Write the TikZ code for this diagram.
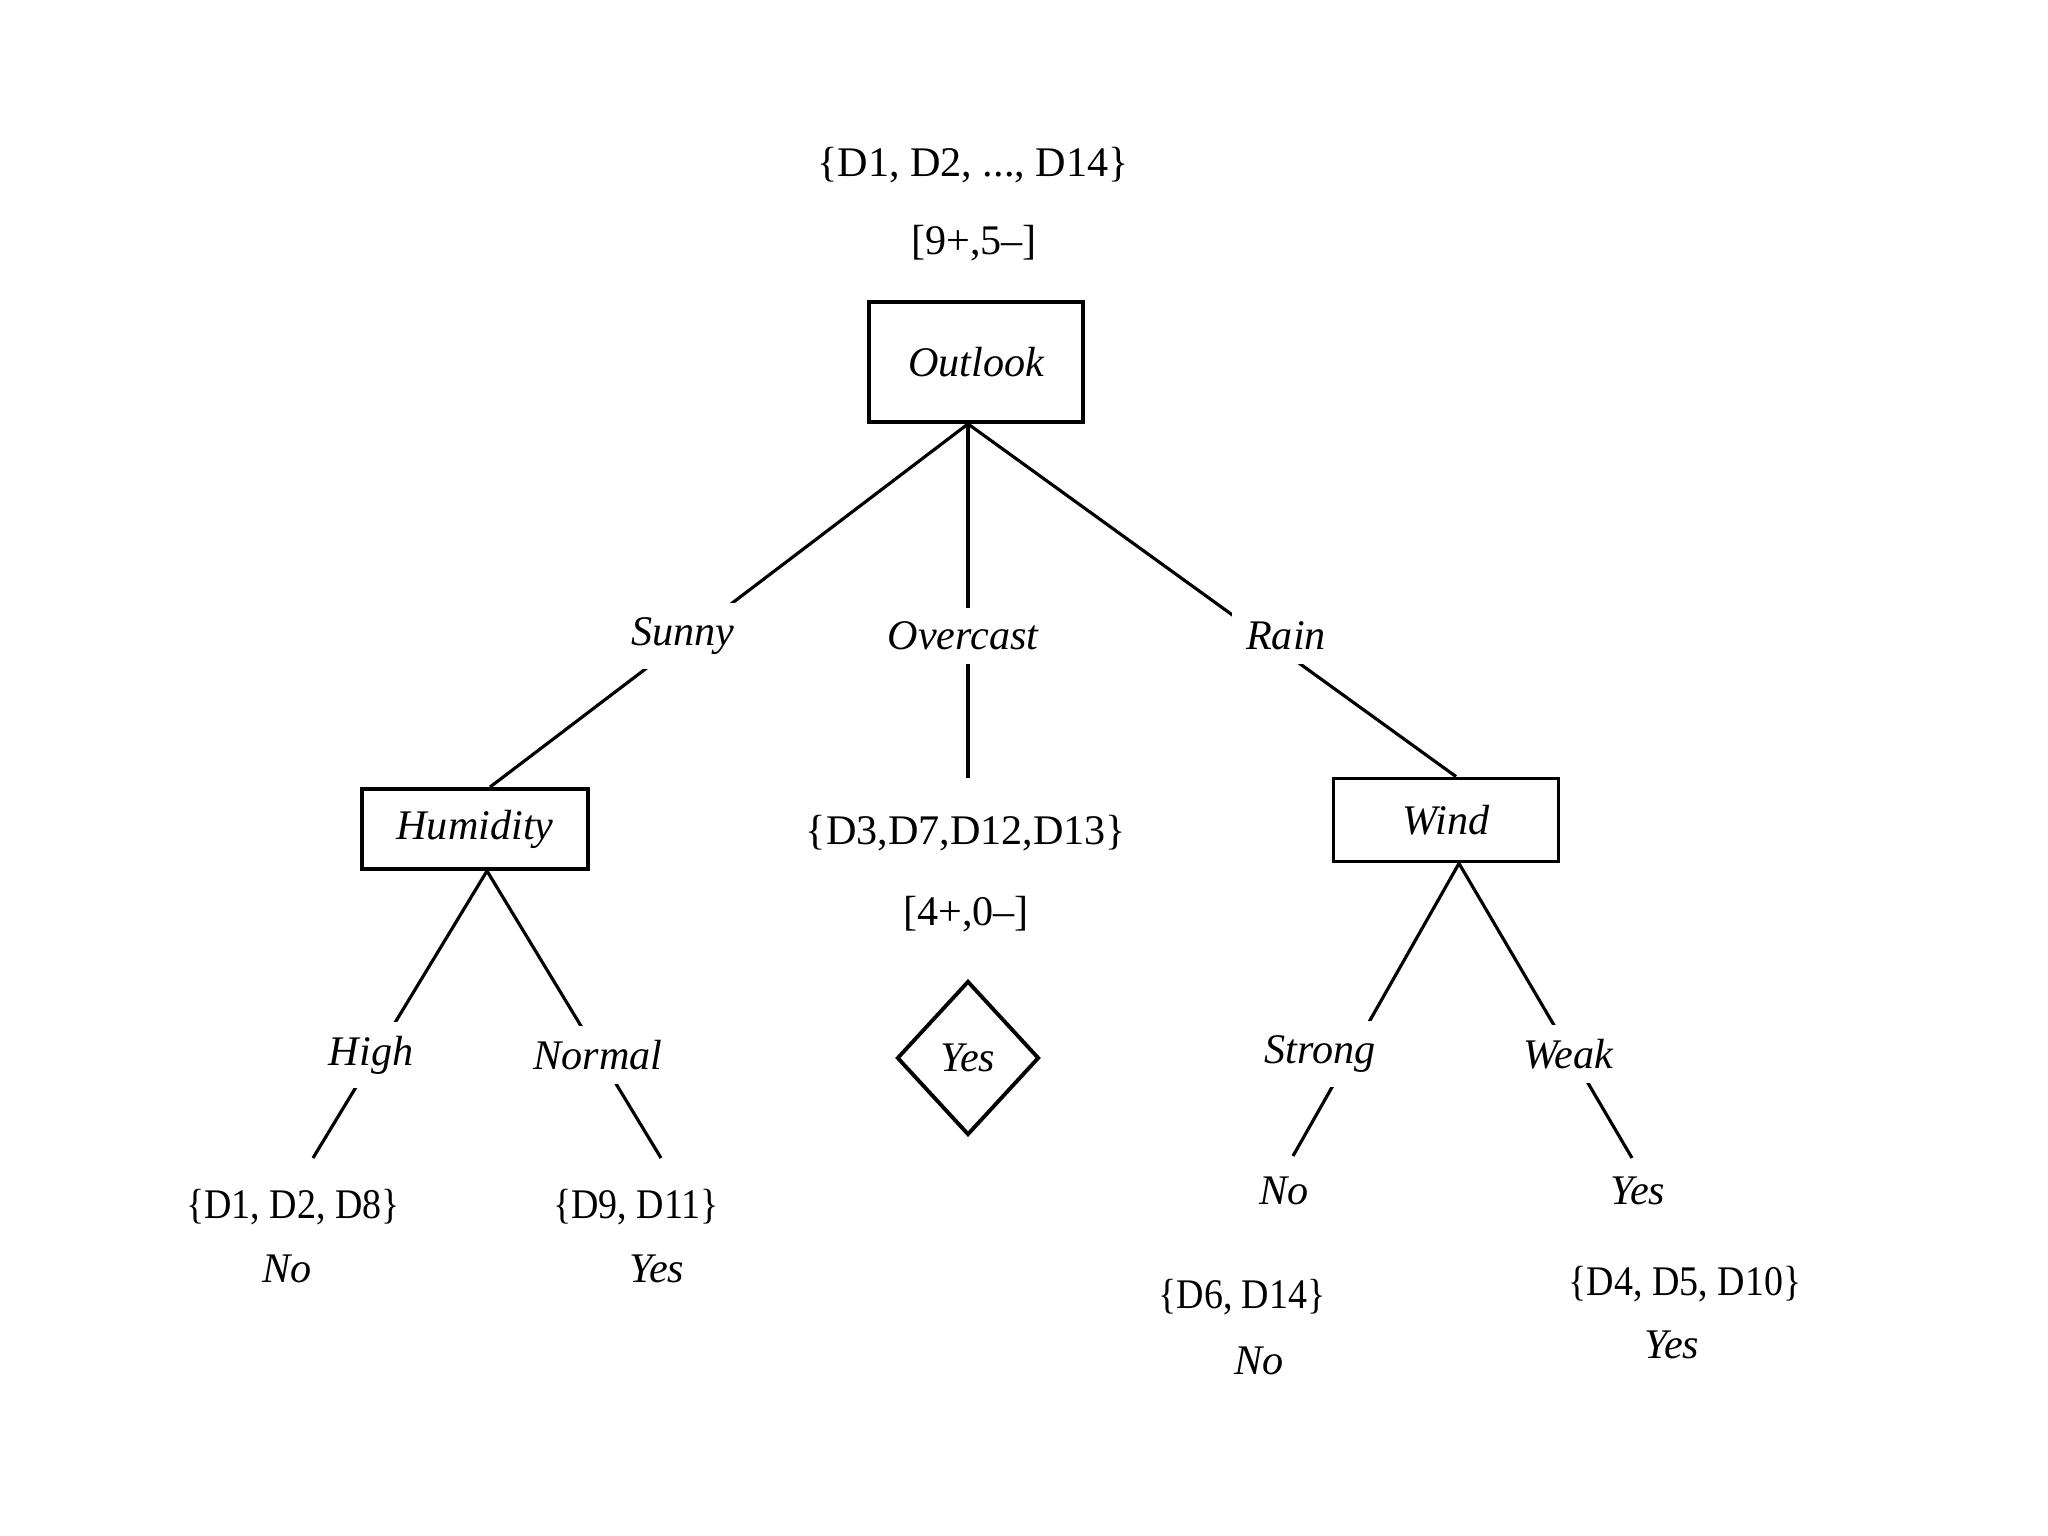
\documentclass[tikz,border=0pt,12pt]{standalone}
\usepackage{fontspec}
\setmainfont{Liberation Serif}
\newfontfamily\leafsetfont[FakeStretch=0.9]{Liberation Serif}
\usetikzlibrary{shapes.geometric}

\begin{document}
\begin{tikzpicture}[line width=0.9pt,
    attrbox/.style={draw, line width=1.1pt, font=\itshape},
    branch/.style={font=\itshape, fill=white},
    leafset/.style={font=\leafsetfont},
    leafbox/.style={draw, diamond, line width=1.1pt, font=\itshape, inner sep=0pt,
        minimum width=1.42cm, minimum height=1.54cm}]
    \useasboundingbox (0,0) rectangle (20.48,-15.36);

    % Root
    \node (rootset) at (9.73,-1.65) {\{D1, D2, ..., D14\}};
    \node (rootcnt) at (9.74,-2.43) {[9+,5--]};
    \node[attrbox, minimum width=2.14cm, minimum height=1.2cm] (outlook) at (9.76,-3.62) {Outlook};

    % Attribute boxes
    \node[attrbox, minimum width=2.26cm, minimum height=0.8cm] (humidity) at (4.75,-8.29) {Humidity};
    \node[attrbox, minimum width=2.25cm, minimum height=0.83cm] (wind) at (14.46,-8.20) {Wind};

    % Outlook branches
    \coordinate (ovend) at (9.68,-7.78);
    \draw ([xshift=-0.08cm]outlook.south) -- ([xshift=0.15cm]humidity.north);
    \draw ([xshift=-0.08cm]outlook.south) -- (ovend);
    \draw ([xshift=-0.08cm]outlook.south) -- ([xshift=0.1cm]wind.north);
    \node[branch] (sunny) at (6.83,-6.36) {Sunny};
    \node[branch] (overcast) at (9.63,-6.36) {Overcast};
    \node[branch] (rain) at (12.86,-6.36) {Rain};

    % Overcast leaf
    \node (ovset) at (9.66,-8.33) {\{D3,D7,D12,D13\}};
    \node (ovcnt) at (9.66,-9.14) {[4+,0--]};
    \node[leafbox] (ovyes) at (9.68,-10.58) {Yes};

    % Humidity branches
    \coordinate (highend) at (3.13,-11.58);
    \coordinate (normalend) at (6.61,-11.58);
    \draw ([xshift=0.12cm]humidity.south) -- (highend);
    \draw ([xshift=0.12cm]humidity.south) -- (normalend);
    \node[branch] (high) at (3.71,-10.55) {High};
    \node[branch] (normal) at (5.98,-10.55) {Normal};
    \node[leafset] (highset) at (2.93,-12.07) {\{D1, D2, D8\}};
    \node[branch] (highno) at (2.87,-12.69) {No};
    \node[leafset] (normalset) at (6.36,-12.07) {\{D9, D11\}};
    \node[branch] (normalyes) at (6.57,-12.69) {Yes};

    % Wind branches
    \coordinate (strongend) at (12.93,-11.56);
    \coordinate (weakend) at (16.32,-11.58);
    \draw ([xshift=0.13cm]wind.south) -- (strongend);
    \draw ([xshift=0.13cm]wind.south) -- (weakend);
    \node[branch] (strong) at (13.20,-10.54) {Strong};
    \node[branch] (weak) at (15.68,-10.54) {Weak};
    \node[branch] (strongno) at (12.84,-11.91) {No};
    \node[branch] (weakyes) at (16.38,-11.91) {Yes};
    \node[leafset] (strongset) at (12.42,-12.97) {\{D6, D14\}};
    \node[branch] (strongno2) at (12.59,-13.61) {No};
    \node[leafset] (weakset) at (16.85,-12.84) {\{D4, D5, D10\}};
    \node[branch] (weakyes2) at (16.72,-13.45) {Yes};
\end{tikzpicture}
\end{document}
